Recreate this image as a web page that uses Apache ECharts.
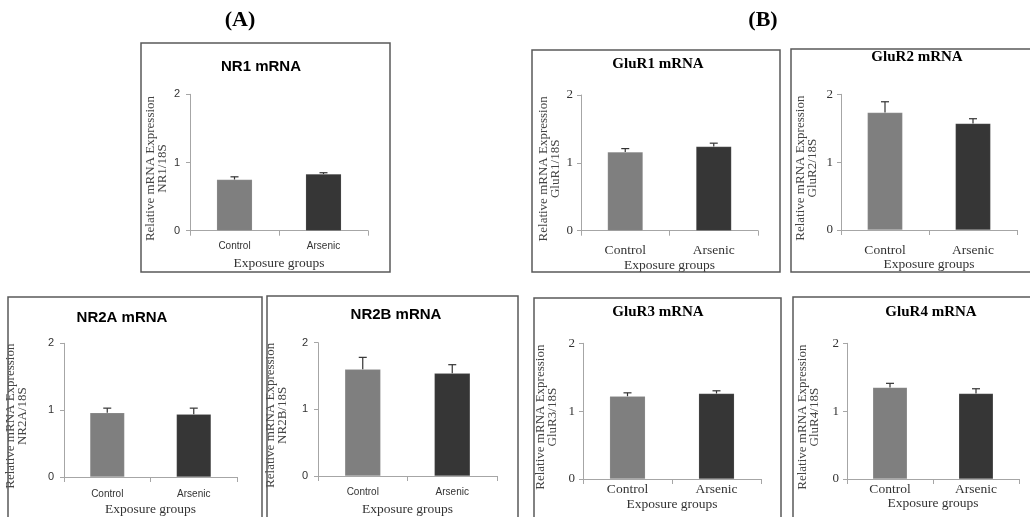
<!DOCTYPE html>
<html>
<head>
<meta charset="utf-8">
<script src="https://cdn.jsdelivr.net/npm/echarts@6/dist/echarts.min.js"></script>
<style>html,body{margin:0;padding:0;background:#fff;}#c{width:1030px;height:517px;}</style>
</head>
<body>
<div id="c"></div>
<script>
// ---- data ----
const categories = ['Control', 'Arsenic'];
const panelTitles = ['NR1 mRNA', 'NR2A mRNA', 'NR2B mRNA', 'GluR1 mRNA', 'GluR2 mRNA', 'GluR3 mRNA', 'GluR4 mRNA'];
const yRatioNames = ['NR1/18S', 'NR2A/18S', 'NR2B/18S', 'GluR1/18S', 'GluR2/18S', 'GluR3/18S', 'GluR4/18S'];
const yAxisName = 'Relative mRNA Expression';
const xAxisName = 'Exposure groups';
const yTicks = [0, 1, 2];
const nr1Mean = [0.75, 0.83];   const nr1Err = [0.04, 0.02];
const nr2aMean = [0.96, 0.94];  const nr2aErr = [0.07, 0.09];
const nr2bMean = [1.60, 1.54];  const nr2bErr = [0.18, 0.13];
const glur1Mean = [1.16, 1.24]; const glur1Err = [0.05, 0.05];
const glur2Mean = [1.73, 1.57]; const glur2Err = [0.16, 0.07];
const glur3Mean = [1.22, 1.26]; const glur3Err = [0.05, 0.04];
const glur4Mean = [1.35, 1.26]; const glur4Err = [0.06, 0.07];
const panelLabels = ['(A)', '(B)'];

// ---- layout (presentation only) ----
const means = [nr1Mean, nr2aMean, nr2bMean, glur1Mean, glur2Mean, glur3Mean, glur4Mean];
const errs = [nr1Err, nr2aErr, nr2bErr, glur1Err, glur2Err, glur3Err, glur4Err];
const SERIF = 'Liberation Serif';
const SANS = 'Liberation Sans';
const layouts = [
  // NR1
  {grid:[190, 94.3, 178, 136.4], box:[141, 43, 249, 229], title:[261, 67], sans:true, yGap:21, lblM:11, xGap:26},
  // NR2A
  {grid:[64, 343.3, 173, 136], box:[8, 297, 254, 240], title:[122, 318], sans:true, yGap:35, lblM:12, xGap:25},
  // NR2B
  {grid:[318, 342.7, 179, 136.3], box:[267, 296, 251, 240], title:[396, 315], sans:true, yGap:29, lblM:11, xGap:26},
  // GluR1
  {grid:[581, 95, 177, 135.7], box:[532, 50, 248, 222], title:[658, 64], sans:false, yGap:19, lblM:13, xGap:26},
  // GluR2
  {grid:[841, 94.3, 176, 135.7], box:[791, 49, 260, 223], title:[917, 57], sans:false, yGap:22, lblM:13, xGap:26},
  // GluR3
  {grid:[583, 343.3, 178, 135.7], box:[534, 298, 247, 240], title:[658, 312], sans:false, yGap:24, lblM:3.5, xGap:15},
  // GluR4
  {grid:[847, 343.3, 172, 135.7], box:[793, 297, 260, 240], title:[931, 312], sans:false, yGap:26, lblM:3, xGap:15}
];
const labelPos = [[240, 20], [763, 20]];

const AXIS_COLOR = '#a6a6a6';
const grids = [], xAxes = [], yAxes = [], series = [], titles = [], graphics = [];

layouts.forEach((L, i) => {
  grids.push({left: L.grid[0], top: L.grid[1], width: L.grid[2], height: L.grid[3], containLabel: false});
  titles.push({
    text: panelTitles[i], left: L.title[0], top: L.title[1] - 7.5, textAlign: 'center', padding: 0,
    textStyle: {fontFamily: L.sans ? SANS : SERIF, fontWeight: 'bold', fontSize: 15, color: '#000'}
  });
  xAxes.push({
    gridIndex: i, type: 'category', data: categories,
    name: xAxisName, nameLocation: 'middle', nameGap: L.xGap,
    nameTextStyle: {fontFamily: SERIF, fontSize: 13.5, color: '#333'},
    axisLine: {lineStyle: {color: AXIS_COLOR, width: 1}},
    axisTick: {show: true, length: 5, lineStyle: {color: AXIS_COLOR}},
    axisLabel: {margin: L.lblM, fontFamily: L.sans ? SANS : SERIF, fontSize: L.sans ? 10 : 13.5, color: '#333'}
  });
  yAxes.push({
    gridIndex: i, type: 'value', min: yTicks[0], max: yTicks[yTicks.length - 1], interval: 1,
    name: yAxisName + '\n' + yRatioNames[i], nameLocation: 'middle', nameRotate: 90, nameGap: L.yGap,
    nameTextStyle: {fontFamily: SERIF, fontSize: 13, lineHeight: 12, color: '#444', padding: [0, 12, 0, 0]},
    axisLine: {show: true, lineStyle: {color: AXIS_COLOR, width: 1}},
    axisTick: {show: true, length: 4, lineStyle: {color: AXIS_COLOR}},
    splitLine: {show: false},
    axisLabel: {margin: L.sans ? 10 : 8, fontFamily: L.sans ? SANS : SERIF, fontSize: L.sans ? 11 : 13, color: '#333'}
  });
  series.push({
    type: 'bar', xAxisIndex: i, yAxisIndex: i, barWidth: '40%', silent: true,
    data: means[i].map((v, k) => ({value: v, itemStyle: {color: k === 0 ? '#7f7f7f' : '#363636'}})),
    itemStyle: {borderColor: 'rgba(255,255,255,0.25)', borderWidth: 0.5}
  });
  series.push({
    type: 'custom', xAxisIndex: i, yAxisIndex: i, silent: true, z: 5,
    data: means[i].map((v, k) => [k, v, errs[i][k]]),
    renderItem: function (params, api) {
      const c = api.value(0), m = api.value(1), e = api.value(2);
      const p0 = api.coord([c, m]);
      const p1 = api.coord([c, m + e]);
      const st = {stroke: '#333', lineWidth: 1.2};
      return {type: 'group', children: [
        {type: 'line', shape: {x1: p0[0], y1: p0[1], x2: p1[0], y2: p1[1]}, style: st},
        {type: 'line', shape: {x1: p1[0] - 4, y1: p1[1], x2: p1[0] + 4, y2: p1[1]}, style: st}
      ]};
    }
  });
  graphics.push({
    type: 'rect', silent: true, z: 100,
    shape: {x: L.box[0], y: L.box[1], width: L.box[2], height: L.box[3]},
    style: {fill: 'none', stroke: '#595959', lineWidth: 1.5}
  });
});
panelLabels.forEach((t, j) => {
  graphics.push({
    type: 'text', silent: true, x: labelPos[j][0], y: labelPos[j][1],
    style: {text: t, font: 'bold 22px "Liberation Serif"', fill: '#000', align: 'center', verticalAlign: 'middle'}
  });
});

const chart = echarts.init(document.getElementById('c'), null, {renderer: 'canvas'});
chart.setOption({
  animation: false,
  backgroundColor: '#fff',
  title: titles,
  grid: grids,
  xAxis: xAxes,
  yAxis: yAxes,
  series: series,
  graphic: graphics
});
</script>
</body>
</html>
